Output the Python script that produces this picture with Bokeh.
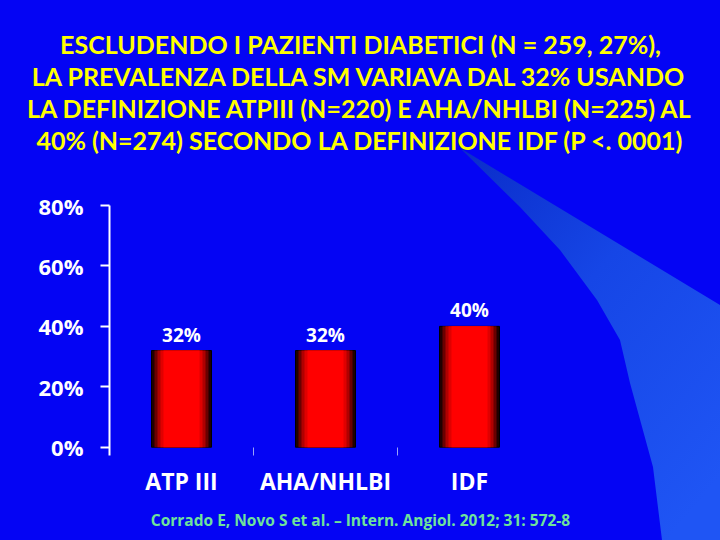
from urllib.parse import quote
from bokeh.plotting import figure
from bokeh.models import (Range1d, FixedTicker, LabelSet, Title,
                          ColumnDataSource, InlineStyleSheet)
from bokeh.core.properties import value
from bokeh.embed import file_html
from bokeh.resources import INLINE

# ---- data ----
categories = ["ATP III", "AHA/NHLBI", "IDF"]
prevalence = [32, 32, 40]
value_labels = ["32%", "32%", "40%"]
y_ticks = [0, 20, 40, 60, 80]
y_tick_labels = ["0%", "20%", "40%", "60%", "80%"]
title_lines = [
    "ESCLUDENDO I PAZIENTI DIABETICI (N = 259, 27%),",
    "LA PREVALENZA DELLA SM VARIAVA DAL 32% USANDO",
    "LA DEFINIZIONE ATPIII (N=220) E AHA/NHLBI (N=225) AL",
    "40% (N=274) SECONDO LA DEFINIZIONE IDF (P <. 0001)",
]
footnote = "Corrado E, Novo S et al. \u2013 Intern. Angiol. 2012; 31: 572-8"

# category slots along the x axis
x_pos = list(range(len(categories)))
separators = [i + 0.5 for i in x_pos[:-1]]

# ---- style ----
W, H = 720, 540
BG = "#0404F4"
FONT = "Open Sans"
TITLE_FONT = "Lato"

# decorative swoosh of the slide template, as a CSS background
swoosh = "460,148 720,305 720,540 662,540 653,467 630,383 620,340 597,300 560,250 520,207"
svg = ("<svg xmlns='http://www.w3.org/2000/svg' width='720' height='540'>"
       "<defs><linearGradient id='g' x1='0' y1='0' x2='0.8' y2='1'>"
       "<stop offset='0' stop-color='#0a2cc8'/><stop offset='0.45' stop-color='#1646e6'/>"
       "<stop offset='1' stop-color='#1f55f4'/></linearGradient></defs>"
       f"<rect width='720' height='540' fill='{BG}'/>"
       f"<polygon points='{swoosh}' fill='url(#g)'/></svg>")
css = (":host { background-color: %s; background-image: url(\"data:image/svg+xml;charset=utf-8,%s\");"
       " background-repeat: no-repeat; background-size: 720px 540px; }" % (BG, quote(svg, safe="")))

# frame spans x 109..611 (centred on the slide); 144 px per category slot
p = figure(width=W, height=H, x_range=Range1d(-0.5, -0.5 + 502 / 144),
           y_range=Range1d(-2.75, 80), output_backend="svg", toolbar_location=None,
           min_border_left=109, min_border_right=109, min_border_top=205,
           min_border_bottom=85, stylesheets=[InlineStyleSheet(css=css)])
p.background_fill_color = None
p.border_fill_color = None
p.outline_line_color = None
p.grid.visible = False

# y axis
ya = p.yaxis[0]
ya.ticker = FixedTicker(ticks=y_ticks)
ya.major_label_overrides = dict(zip(y_ticks, y_tick_labels))
ya.axis_line_color = "white"
ya.axis_line_width = 2
ya.major_tick_line_color = "white"
ya.major_tick_line_width = 2
ya.major_tick_out = 9
ya.major_tick_in = 0
ya.minor_tick_line_color = None
ya.major_label_text_color = "white"
ya.major_label_text_font = FONT
ya.major_label_text_font_style = "bold"
ya.major_label_text_font_size = "22px"
ya.major_label_standoff = 17

# x axis (category labels at slot centres, faint separators between slots)
xa = p.xaxis[0]
xa.ticker = FixedTicker(ticks=x_pos, minor_ticks=separators)
xa.major_label_overrides = dict(zip(x_pos, categories))
xa.axis_line_color = None
xa.major_tick_line_color = None
xa.minor_tick_line_color = "#9aa2f8"
xa.minor_tick_line_width = 1
xa.minor_tick_in = 8
xa.minor_tick_out = 0
xa.major_label_text_color = "white"
xa.major_label_text_font = FONT
xa.major_label_text_font_style = "bold"
xa.major_label_text_font_size = "23px"
xa.major_label_standoff = 3

# bars with a horizontal shading (outer dark -> inner bright red)
src = ColumnDataSource(dict(x=x_pos, val=prevalence, lab=value_labels))
full_w = 60 / 144
shades = ["#200000", "#6a0000", "#b00000", "#e00000", "#ff0000"]
for k, c in enumerate(shades):
    w = full_w - k * (6 / 144)
    p.vbar(x="x", top="val", bottom=0, width=w, source=src, fill_color=c,
           line_color="black" if k == 0 else None, line_width=1)

p.add_layout(LabelSet(x="x", y="val", text="lab", source=src, y_offset=9,
                      text_align="center", text_baseline="alphabetic",
                      text_color="white", text_font=value(FONT),
                      text_font_style="bold", text_font_size="19px"))

# spacer between the slide title and the chart
p.add_layout(Title(text=" ", text_font_size="1px", standoff=48), "above")
# slide title: one centred Title per line (last added is outermost)
for t in reversed(title_lines):
    p.add_layout(Title(text=t, align="center", standoff=0,
                       text_color="#FFFF00", text_font=TITLE_FONT, text_font_style="bold",
                       text_font_size="25px"), "above")

p.add_layout(Title(text=footnote, align="center", standoff=14,
                   text_color="#6FE39A", text_font=FONT, text_font_style="bold",
                   text_font_size="15.5px"), "below")

open("out.html", "w").write(file_html(p, INLINE))
